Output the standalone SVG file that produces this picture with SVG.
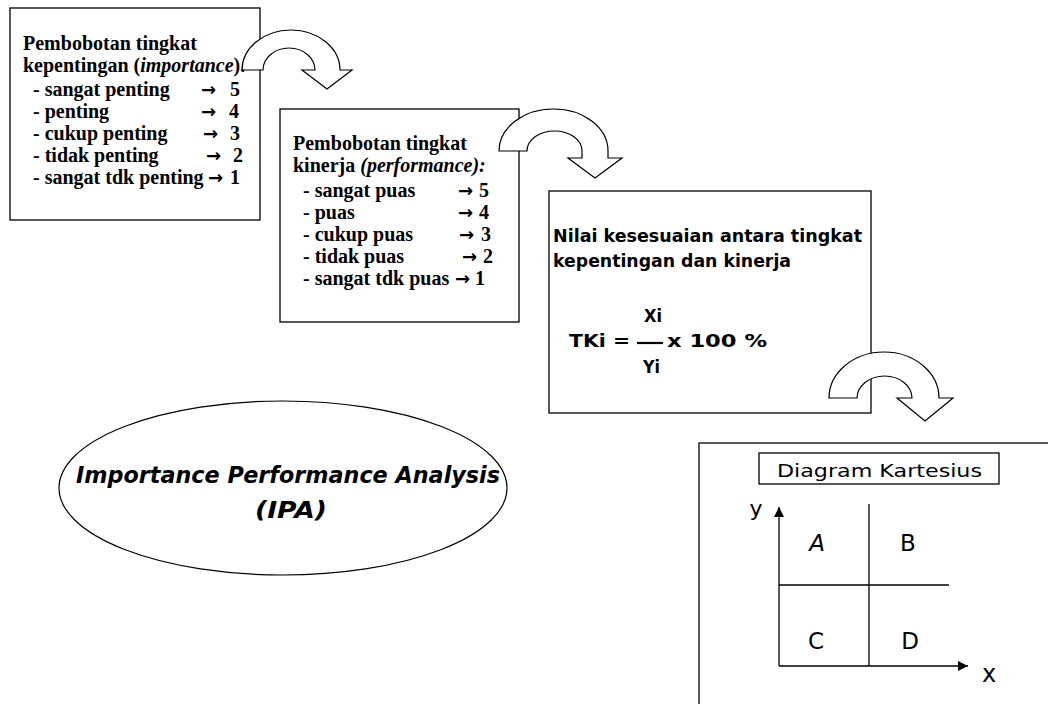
<svg xmlns="http://www.w3.org/2000/svg" width="1048" height="704" viewBox="0 0 1048 704">
<style>
.box{fill:#fff;stroke:#000;stroke-width:1.3}
.blk{fill:#fff;stroke:#000;stroke-width:1.2;stroke-linejoin:miter}
.tr{font-family:"Liberation Serif","Times New Roman",serif;font-weight:bold;font-size:20px;fill:#000}
.it{font-style:italic}
.ar{font-family:"DejaVu Sans","Liberation Sans",sans-serif;font-weight:bold;font-size:18px}
.cs{font-family:"DejaVu Sans","Liberation Sans",sans-serif;font-weight:bold;fill:#000}
.ln{stroke:#000;stroke-width:1.3;fill:none}
</style>
<defs>
<marker id="ah" viewBox="0 0 10 10" refX="10" refY="5" markerWidth="10" markerHeight="10" markerUnits="userSpaceOnUse" orient="auto">
<path d="M0,0 L10,5 L0,10 Z" fill="#000"/>
</marker>
</defs>

<g id="node-importance">
<rect class="box" x="10" y="8" width="250" height="212"/>
<text class="tr" x="23" y="50">Pembobotan tingkat</text>
<text class="tr" x="23" y="72">kepentingan (<tspan class="it">importance</tspan>).</text>
<text class="tr" y="96"><tspan x="33">- sangat penting</tspan><tspan class="ar" x="201">→</tspan><tspan x="230">5</tspan></text>
<text class="tr" y="118"><tspan x="33">- penting</tspan><tspan class="ar" x="201">→</tspan><tspan x="229">4</tspan></text>
<text class="tr" y="140"><tspan x="33">- cukup penting</tspan><tspan class="ar" x="203">→</tspan><tspan x="230">3</tspan></text>
<text class="tr" y="162"><tspan x="33">- tidak penting</tspan><tspan class="ar" x="206">→</tspan><tspan x="233">2</tspan></text>
<text class="tr" y="184"><tspan x="33">- sangat tdk penting</tspan><tspan class="ar" x="208">→</tspan><tspan x="230">1</tspan></text>
</g>

<g id="node-performance">
<rect class="box" x="280" y="109" width="239" height="213"/>
<text class="tr" x="293" y="150">Pembobotan tingkat</text>
<text class="tr" x="293" y="172">kinerja <tspan class="it">(performance):</tspan></text>
<text class="tr" y="197"><tspan x="303">- sangat puas</tspan><tspan class="ar" x="458">→</tspan><tspan x="479">5</tspan></text>
<text class="tr" y="219"><tspan x="303">- puas</tspan><tspan class="ar" x="458">→</tspan><tspan x="479">4</tspan></text>
<text class="tr" y="241"><tspan x="303">- cukup puas</tspan><tspan class="ar" x="459">→</tspan><tspan x="481">3</tspan></text>
<text class="tr" y="263"><tspan x="303">- tidak puas</tspan><tspan class="ar" x="462">→</tspan><tspan x="483">2</tspan></text>
<text class="tr" y="285"><tspan x="303">- sangat tdk puas</tspan><tspan class="ar" x="455">→</tspan><tspan x="475">1</tspan></text>
</g>

<g id="node-kesesuaian">
<rect class="box" x="549" y="191" width="322" height="222"/>
<text class="cs" x="553" y="242" font-size="17" textLength="309" lengthAdjust="spacingAndGlyphs">Nilai kesesuaian antara tingkat</text>
<text class="cs" x="553" y="267" font-size="17" textLength="238" lengthAdjust="spacingAndGlyphs">kepentingan dan kinerja</text>
<text class="cs" x="644" y="322" font-size="17" textLength="18" lengthAdjust="spacingAndGlyphs">Xi</text>
<text class="cs" x="569" y="347" font-size="17" textLength="61" lengthAdjust="spacingAndGlyphs">TKi =</text>
<line x1="637" y1="343" x2="663" y2="343" stroke="#000" stroke-width="2.2"/>
<text class="cs" x="667" y="347" font-size="17" textLength="100" lengthAdjust="spacingAndGlyphs">x  100 %</text>
<text class="cs" x="643" y="373" font-size="17" textLength="17" lengthAdjust="spacingAndGlyphs">Yi</text>
</g>

<g id="node-kartesius">
<rect class="box" x="699" y="443" width="400" height="300"/>
<rect class="box" x="759" y="453" width="240" height="31"/>
<text class="cs" x="777" y="477" font-size="18" textLength="205" lengthAdjust="spacingAndGlyphs" style="font-weight:normal">Diagram Kartesius</text>
<line class="ln" x1="779" y1="666" x2="779" y2="507" marker-end="url(#ah)"/>
<line class="ln" x1="779" y1="666" x2="968" y2="666" marker-end="url(#ah)"/>
<line class="ln" x1="869" y1="504" x2="869" y2="666"/>
<line class="ln" x1="779" y1="585" x2="949" y2="585"/>
<text class="cs" x="756" y="516" font-size="22" text-anchor="middle" style="font-weight:normal">y</text>
<text class="cs" x="817" y="551" font-size="23" text-anchor="middle" style="font-weight:normal;font-style:italic">A</text>
<text class="cs" x="908" y="551" font-size="23" text-anchor="middle" style="font-weight:normal">B</text>
<text class="cs" x="816" y="649" font-size="23" text-anchor="middle" style="font-weight:normal">C</text>
<text class="cs" x="910" y="649" font-size="23" text-anchor="middle" style="font-weight:normal">D</text>
<text class="cs" x="989" y="682" font-size="24" text-anchor="middle" style="font-weight:normal">x</text>
</g>

<g id="node-ipa">
<ellipse cx="283" cy="488" rx="224" ry="87" fill="#fff" stroke="#000" stroke-width="1.2"/>
<text class="cs" x="288" y="483" font-size="23" text-anchor="middle" font-style="italic" textLength="424" lengthAdjust="spacingAndGlyphs">Importance Performance Analysis</text>
<text class="cs" x="291" y="518" font-size="23" text-anchor="middle" font-style="italic" textLength="72" lengthAdjust="spacingAndGlyphs">(IPA)</text>
</g>

<g id="connectors">
<path class="blk" d="M242,70 A49,40 0 0 1 340,70 L352,70 L327,89 L302,70 L315,70 A26,22 0 0 0 263,70 Z"/>
<path class="blk" d="M499,151 A54.5,42 0 0 1 608,151 L608,158 L622,158 L595,178 L568,158 L582,158 L582,151 A27.5,20 0 0 0 527,151 Z"/>
<path class="blk" d="M829,398 A55,46 0 0 1 939,398 L953,398 L925,421 L897,398 L912,398 A27.5,22 0 0 0 857,398 Z"/>
</g>
</svg>
